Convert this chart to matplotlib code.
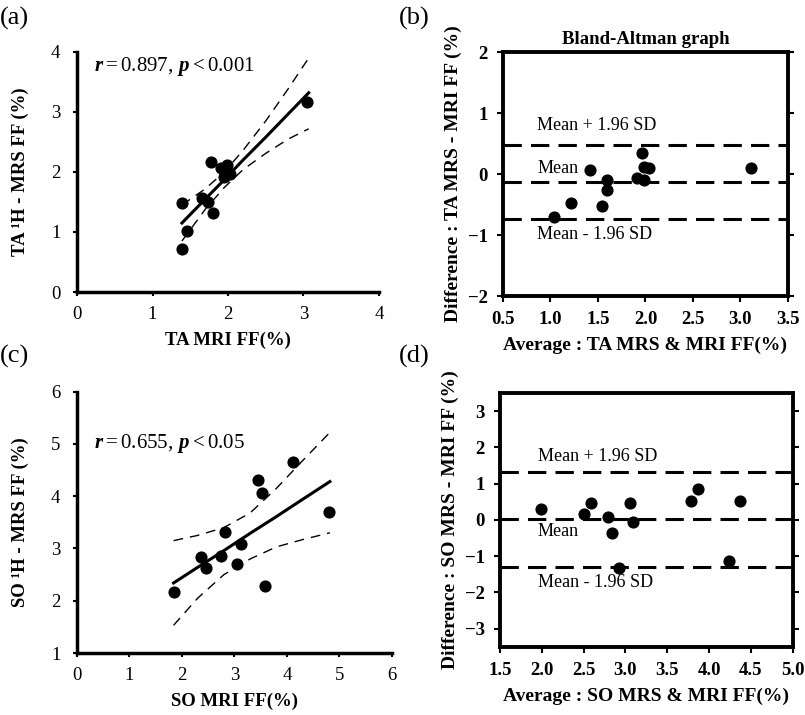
import matplotlib
matplotlib.use("Agg")
import matplotlib.pyplot as plt

plt.rcParams['font.family'] = ['Liberation Serif', 'DejaVu Serif']
plt.rcParams['mathtext.fontset'] = 'custom'
plt.rcParams['mathtext.rm'] = 'Liberation Serif'
plt.rcParams['mathtext.it'] = 'Liberation Serif:italic:bold'
plt.rcParams['mathtext.bf'] = 'Liberation Serif:bold'

# (a) TA correlation
ta_mri = [1.39, 1.46, 1.39, 1.65, 1.74, 1.77, 1.80, 1.91, 1.99, 1.95, 2.03, 3.05]
ta_mrs = [1.49, 1.01, 0.72, 1.57, 1.50, 2.17, 1.31, 2.07, 2.11, 1.91, 1.97, 3.17]
ta_fit_x = [1.39, 1.7, 1.95, 2.2, 2.5, 2.8, 3.07]
ta_fit = [1.15, 1.55, 1.87, 2.20, 2.58, 2.97, 3.32]
ta_ci_hi = [1.45, 1.72, 2.00, 2.36, 2.85, 3.39, 3.90]
ta_ci_lo = [0.85, 1.38, 1.74, 2.04, 2.31, 2.55, 2.72]

# (b) TA Bland-Altman
ta_avg = [1.04, 1.22, 1.42, 1.54, 1.60, 1.60, 1.91, 1.96, 1.98, 1.98, 2.04, 3.11]
ta_diff = [-0.71, -0.47, 0.07, -0.52, -0.10, -0.26, -0.06, 0.35, -0.09, 0.12, 0.10, 0.10]
ta_limits = [0.47, -0.13, -0.74]

# (c) SO correlation
so_mri = [1.84, 2.37, 2.45, 2.75, 2.83, 3.04, 3.12, 3.45, 3.53, 3.59, 4.12, 4.81]
so_mrs = [2.17, 2.84, 2.62, 2.85, 3.31, 2.70, 3.08, 4.31, 4.07, 2.29, 4.65, 3.69]
so_fit_x = [1.84, 2.3, 2.8, 3.3, 3.8, 4.3, 4.82]
so_fit = [2.34, 2.64, 2.96, 3.29, 3.61, 3.94, 4.28]
so_ci_hi = [3.15, 3.25, 3.40, 3.68, 4.15, 4.68, 5.22]
so_ci_lo = [1.53, 2.05, 2.50, 2.80, 3.03, 3.17, 3.30]

# (d) SO Bland-Altman
so_avg = [1.99, 2.51, 2.59, 2.79, 2.84, 2.92, 3.05, 3.09, 3.78, 3.87, 4.24, 4.37]
so_diff = [0.30, 0.17, 0.47, 0.07, -0.36, -1.32, 0.47, -0.05, 0.53, 0.84, -1.14, 0.51]
so_limits = [1.32, 0.03, -1.30]

limit_labels = ['Mean + 1.96 SD', 'Mean', 'Mean - 1.96 SD']

fig = plt.figure(figsize=(8.05, 7.15), dpi=100)


def corr_panel(rect, x, y, fx, fit, hi, lo, lim, ticks, xlabel, ylabel, note, note_y):
    ax = fig.add_axes(rect)
    ax.scatter(x, y, s=60, color='black', zorder=3)
    ax.plot(fx, fit, color='black', lw=2.2)
    ax.plot(fx, hi, color='black', lw=1.0, ls=(0, (7, 5)))
    ax.plot(fx, lo, color='black', lw=1.0, ls=(0, (7, 5)))
    ax.set_xlim(lim[0], lim[1])
    ax.set_ylim(lim[2], lim[3])
    ax.set_xticks(ticks[0])
    ax.set_yticks(ticks[1])
    for s in ['top', 'right']:
        ax.spines[s].set_visible(False)
    for s in ['left', 'bottom']:
        ax.spines[s].set_linewidth(2.5)
    ax.tick_params(labelsize=13.5, length=3, width=1.5)
    ax.tick_params(axis='y', pad=9)
    ax.tick_params(axis='x', pad=7)
    ax.set_xlabel(xlabel, fontsize=13.5, fontweight='bold', labelpad=6)
    ax.set_ylabel(ylabel, fontsize=13.5, fontweight='bold', labelpad=16)
    ax.text(0.055, note_y, note, transform=ax.transAxes, fontsize=15, va='center')
    return ax


def ba_panel(rect, x, y, limits, xlim, ylim, xticks, yticks, xlabel, ylabel, text_x, text_y):
    ax = fig.add_axes(rect)
    ax.scatter(x, y, s=60, color='black', zorder=3)
    for v in limits:
        ax.axhline(v, color='black', lw=2.2, ls=(0, (6, 3)))
    for lbl, ty in zip(limit_labels, text_y):
        ax.text(text_x, ty, lbl, fontsize=13, va='center')
    ax.set_xlim(*xlim)
    ax.set_ylim(*ylim)
    ax.set_xticks(xticks)
    ax.set_xticklabels(['%.1f' % t for t in xticks])
    ax.set_yticks(yticks)
    for s in ax.spines.values():
        s.set_linewidth(2.8)
    ax.tick_params(labelsize=13.5, length=4, width=1.5, pad=7)
    ax.tick_params(axis='y', right=True, which='major')
    for lab in ax.get_xticklabels() + ax.get_yticklabels():
        lab.set_fontweight('bold')
    ax.set_xlabel(xlabel, fontsize=14, fontweight='bold', labelpad=6)
    ax.set_ylabel(ylabel, fontsize=14, fontweight='bold', labelpad=4)
    return ax


corr_panel([0.0957, 0.5916, 0.375, 0.3357], ta_mri, ta_mrs, ta_fit_x, ta_fit,
           ta_ci_hi, ta_ci_lo, (0, 4, 0, 4), ([0, 1, 2, 3, 4], [0, 1, 2, 3, 4]),
           'TA MRI FF(%)', 'TA ¹H - MRS FF (%)',
           r'$r = \mathrm{0.897},\, p < \mathrm{0.001}$', 0.94)

ax_b = ba_panel([0.6248, 0.586, 0.354, 0.341], ta_avg, ta_diff, ta_limits,
                (0.5, 3.5), (-2, 2), [0.5, 1.0, 1.5, 2.0, 2.5, 3.0, 3.5],
                [-2, -1, 0, 1, 2], 'Average : TA MRS & MRI FF(%)',
                'Difference : TA MRS - MRI FF (%)', 0.86, [0.79, 0.10, -0.99])
ax_b.set_title('Bland-Altman graph', fontsize=13.5, fontweight='bold', pad=6)

corr_panel([0.0957, 0.0867, 0.391, 0.3655], so_mri, so_mrs, so_fit_x, so_fit,
           so_ci_hi, so_ci_lo, (0, 6, 1, 6), ([0, 1, 2, 3, 4, 5, 6], [1, 2, 3, 4, 5, 6]),
           'SO MRI FF(%)', 'SO ¹H - MRS FF (%)',
           r'$r = \mathrm{0.655},\, p < \mathrm{0.05}$', 0.80)

ba_panel([0.6211, 0.0955, 0.3636, 0.3548], so_avg, so_diff, so_limits,
         (1.5, 5.0), (-3.5, 3.5), [1.5, 2.0, 2.5, 3.0, 3.5, 4.0, 4.5, 5.0],
         [-3, -2, -1, 0, 1, 2, 3], 'Average : SO MRS & MRI FF(%)',
         'Difference : SO MRS - MRI FF (%)', 1.95, [1.75, -0.32, -1.73])

for lbl, (x, y) in zip(['(a)', '(b)', '(c)', '(d)'],
                       [(0.0, 0.99), (0.495, 0.99), (0.0, 0.517), (0.495, 0.517)]):
    fig.text(x, y, lbl, fontsize=19, va='top', ha='left')

fig.savefig('out.png', dpi=100)
